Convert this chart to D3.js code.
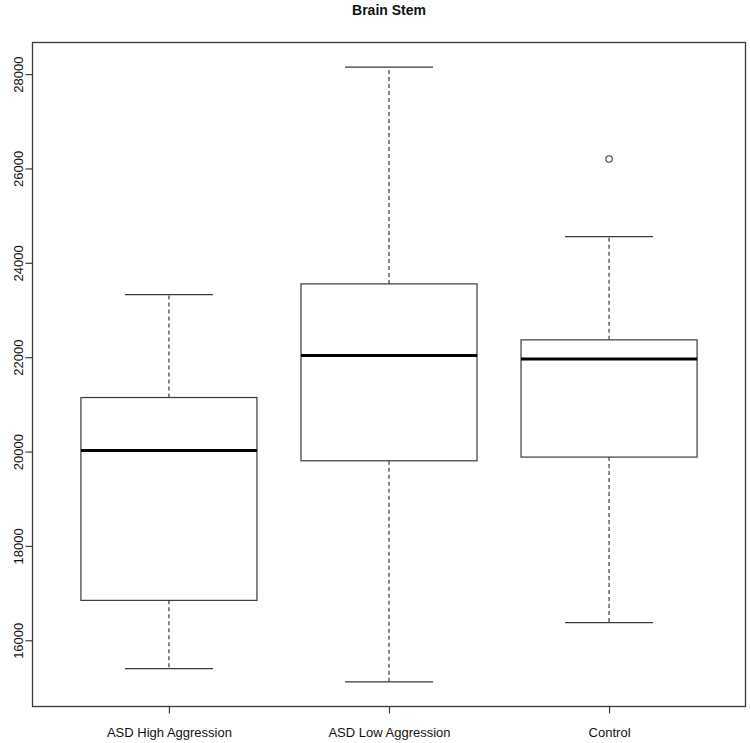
<!DOCTYPE html>
<html>
<head>
<meta charset="utf-8">
<script src="https://cdn.jsdelivr.net/npm/d3@7"></script>
<style>
  html, body { margin: 0; padding: 0; background: #fff; }
  svg { display: block; }
  text { font-family: "Liberation Sans", Arial, Helvetica, sans-serif; fill: #111; }
</style>
</head>
<body>
<svg id="chart" width="750" height="743"></svg>
<script>
const title = "Brain Stem";
const categories = ["ASD High Aggression", "ASD Low Aggression", "Control"];
const whiskerLow  = [15400, 15118, 16374];
const q1          = [16846, 19804, 19883];
const median      = [20023, 22034, 21964];
const q3          = [21145, 23553, 22367];
const whiskerHigh = [23326, 28148, 24555];
const outliers    = [[], [], [26200]];
const yTicks      = [16000, 18000, 20000, 22000, 24000, 26000, 28000];

const W = 750, H = 743;
const plot = { left: 32.5, right: 745.5, top: 42.5, bottom: 706.5 };
const ink = "#3a3a3a";

const svg = d3.select("#chart");

// R-like extended ranges (4% padding)
const xMin = 0.5, xMax = categories.length + 0.5;
const xPad = (xMax - xMin) * 0.04;
const x = d3.scaleLinear().domain([xMin - xPad, xMax + xPad]).range([plot.left, plot.right]);

const allVals = whiskerLow.concat(whiskerHigh, outliers.flat());
const dMin = d3.min(allVals), dMax = d3.max(allVals);
const yPad = (dMax - dMin) * 0.04;
const y = d3.scaleLinear().domain([dMin - yPad, dMax + yPad]).range([plot.bottom, plot.top]);

const unit = x(2) - x(1);
const boxW = unit * 0.8;
const capW = boxW * 0.5;

// frame
svg.append("rect")
  .attr("x", plot.left).attr("y", plot.top)
  .attr("width", plot.right - plot.left).attr("height", plot.bottom - plot.top)
  .attr("fill", "none").attr("stroke", ink).attr("stroke-width", 1.3);

// y axis
const yAxis = d3.axisLeft(y).tickValues(yTicks).tickSize(7).tickPadding(3).tickFormat(d3.format("d"));
const gy = svg.append("g").attr("transform", `translate(${plot.left},0)`).call(yAxis);
gy.select(".domain").remove();
gy.selectAll(".tick line").attr("stroke", ink).attr("stroke-width", 1.2);
gy.selectAll(".tick text")
  .attr("transform", "rotate(-90)")
  .attr("x", 0).attr("y", -10)
  .attr("dy", 0)
  .attr("text-anchor", "middle")
  .style("font-size", "13px")
  .style("font-family", "'Liberation Sans', Arial, sans-serif")
  .attr("fill", "#111");

// x axis
const xAxis = d3.axisBottom(x).tickValues(categories.map((d, i) => i + 1))
  .tickFormat((d) => categories[d - 1]).tickSize(7).tickPadding(14);
const gx = svg.append("g").attr("transform", `translate(0,${plot.bottom})`).call(xAxis);
gx.select(".domain").remove();
gx.selectAll(".tick line").attr("stroke", ink).attr("stroke-width", 1.2);
gx.selectAll(".tick text")
  .style("font-size", "13px")
  .style("font-family", "'Liberation Sans', Arial, sans-serif")
  .attr("fill", "#111");

// boxes
const groups = svg.append("g").selectAll("g").data(categories).join("g");
groups.each(function (c, i) {
  const g = d3.select(this);
  const cx = x(i + 1);
  // whiskers
  g.append("line").attr("x1", cx).attr("x2", cx).attr("y1", y(q3[i])).attr("y2", y(whiskerHigh[i]))
    .attr("stroke", ink).attr("stroke-width", 1.2).attr("stroke-dasharray", "4,3");
  g.append("line").attr("x1", cx).attr("x2", cx).attr("y1", y(q1[i])).attr("y2", y(whiskerLow[i]))
    .attr("stroke", ink).attr("stroke-width", 1.2).attr("stroke-dasharray", "4,3");
  // caps
  [whiskerHigh[i], whiskerLow[i]].forEach(v => {
    g.append("line").attr("x1", cx - capW / 2).attr("x2", cx + capW / 2).attr("y1", y(v)).attr("y2", y(v))
      .attr("stroke", ink).attr("stroke-width", 1.2);
  });
  // box
  g.append("rect").attr("x", cx - boxW / 2).attr("y", y(q3[i]))
    .attr("width", boxW).attr("height", y(q1[i]) - y(q3[i]))
    .attr("fill", "none").attr("stroke", ink).attr("stroke-width", 1.2);
  // median
  g.append("line").attr("x1", cx - boxW / 2).attr("x2", cx + boxW / 2).attr("y1", y(median[i])).attr("y2", y(median[i]))
    .attr("stroke", "#000").attr("stroke-width", 3);
  // outliers
  outliers[i].forEach(v => {
    g.append("circle").attr("cx", cx).attr("cy", y(v)).attr("r", 3.2)
      .attr("fill", "none").attr("stroke", ink).attr("stroke-width", 1.1);
  });
});

// title
svg.append("text").attr("x", (plot.left + plot.right) / 2).attr("y", 15)
  .attr("text-anchor", "middle").style("font-size", "14px").style("font-weight", "bold")
  .text(title);
</script>
</body>
</html>
